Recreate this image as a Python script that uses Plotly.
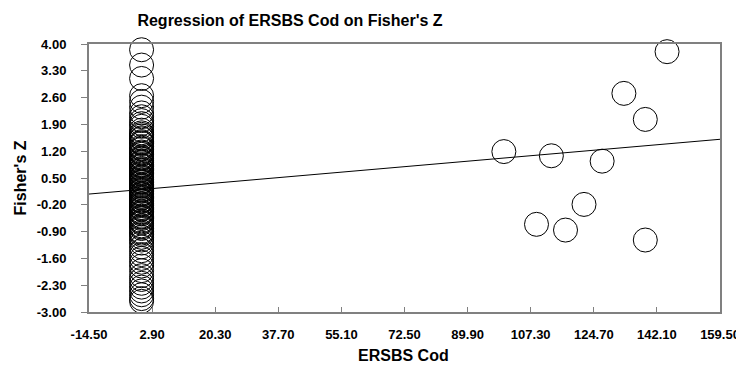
import plotly.graph_objects as go

# ---- data ----
cluster_x_value = 0.0
cluster_z = [3.85, 3.45, 3.10, 2.65, 2.50, 2.35, 2.20, 2.10, 2.00, 1.92, 1.85, 1.75,
             1.68, 1.64, 1.60, 1.55, 1.52, 1.45, 1.42, 1.40, 1.32, 1.28, 1.25, 1.18, 1.15,
             1.12, 1.05, 1.02, 1.00, 0.95, 0.92, 0.90, 0.85, 0.82, 0.80, 0.75, 0.72, 0.70,
             0.65, 0.62, 0.60, 0.55, 0.52, 0.50, 0.46, 0.42, 0.40, 0.38, 0.33, 0.30, 0.28,
             0.24, 0.20, 0.18, 0.15, 0.10, 0.08, 0.06, 0.02, -0.01, -0.03, -0.08, -0.10,
             -0.12, -0.17, -0.20, -0.22, -0.27, -0.30, -0.32, -0.38, -0.41, -0.44, -0.50,
             -0.53, -0.56, -0.62, -0.65, -0.68, -0.75, -0.78, -0.82, -0.90, -0.94, -0.98,
             -1.05, -1.12, -1.20, -1.30, -1.40, -1.50, -1.60, -1.70, -1.80,
             -1.92, -2.05, -2.15, -2.25, -2.35, -2.45, -2.55, -2.65, -2.72]
right_cod = [144.9, 133.0, 138.9, 99.9, 113.0, 127.0, 122.0, 108.9, 116.9, 138.9]
right_z = [3.80, 2.71, 2.03, 1.19, 1.08, 0.94, -0.19, -0.71, -0.86, -1.12]

reg_intercept = 0.20
reg_slope = 0.00822

x_ticks = [-14.50, 2.90, 20.30, 37.70, 55.10, 72.50, 89.90, 107.30, 124.70, 142.10, 159.50]
y_ticks = [4.00, 3.30, 2.60, 1.90, 1.20, 0.50, -0.20, -0.90, -1.60, -2.30, -3.00]

x_range = [x_ticks[0], x_ticks[-1]]
y_range = [y_ticks[-1], y_ticks[0]]

# ---- figure ----
W, H = 744, 374
OFF = 8  # page body margin
PL, PR, PT, PB = 89, 724, 44, 312  # plot area in window pixels

xs = [cluster_x_value] * len(cluster_z) + right_cod
ys = cluster_z + right_z

fig = go.Figure()
fig.add_trace(go.Scatter(
    x=xs, y=ys, mode="markers",
    marker=dict(symbol="circle-open", size=24, color="black", line=dict(width=1, color="black")),
    cliponaxis=False, showlegend=False, hoverinfo="x+y"))

line_x = x_range
line_y = [reg_intercept + reg_slope * v for v in line_x]
fig.add_trace(go.Scatter(x=line_x, y=line_y, mode="lines",
                         line=dict(color="black", width=1), showlegend=False))

font_family = "Liberation Sans, Arial, sans-serif"
tick_font = dict(family=font_family, size=13, color="black", weight="bold")

fig.update_layout(
    width=W, height=H,
    margin=dict(l=PL - OFF, r=W + OFF - PR, t=PT - OFF, b=H + OFF - PB),
    paper_bgcolor="white", plot_bgcolor="white",
    title=dict(text="Regression of ERSBS Cod on Fisher's Z", x=(290 - OFF) / W, xanchor="center",
               xref="container", y=1 - (20 - OFF) / H, yanchor="middle", yref="container",
               font=dict(family=font_family, size=16, color="black", weight="bold")),
    xaxis=dict(range=x_range, tickvals=x_ticks, ticktext=[f"{v:.2f}" for v in x_ticks],
               showgrid=False, zeroline=False, showline=True, linecolor="#808080", linewidth=2,
               mirror=True, ticks="inside", ticklen=5, tickcolor="#808080", tickwidth=1,
               tickfont=tick_font, ticklabelstandoff=9),
    yaxis=dict(range=y_range, tickvals=y_ticks, ticktext=[f"{v:.2f}" for v in y_ticks],
               showgrid=False, zeroline=False, showline=True, linecolor="#808080", linewidth=2,
               mirror=True, ticks="outside", ticklen=6, tickcolor="#808080", tickwidth=1,
               tickfont=tick_font, ticklabelstandoff=12),
)
fig.add_annotation(text="ERSBS Cod", xref="paper", yref="paper",
                   x=(405 - PL) / (PR - PL), y=-(355 - PB) / (PB - PT),
                   xanchor="center", yanchor="middle", showarrow=False,
                   font=dict(family=font_family, size=16, color="black", weight="bold"))
fig.add_annotation(text="Fisher's Z", xref="paper", yref="paper",
                   x=-(PL - 20) / (PR - PL), y=(PB - 178) / (PB - PT),
                   xanchor="center", yanchor="middle", textangle=-90, showarrow=False,
                   font=dict(family=font_family, size=16, color="black", weight="bold"))

fig.write_html("out.html")
